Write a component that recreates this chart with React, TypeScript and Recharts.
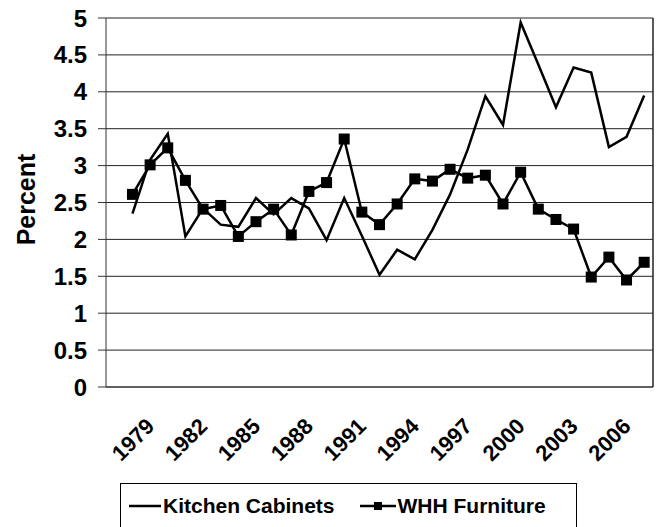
import React from 'react';
import {
    LineChart,
    Line,
    XAxis,
    YAxis,
    CartesianGrid,
    ReferenceLine,
    Legend
} from 'recharts';

const years = [
    1978, 1979, 1980, 1981, 1982, 1983, 1984, 1985, 1986, 1987,
    1988, 1989, 1990, 1991, 1992, 1993, 1994, 1995, 1996, 1997,
    1998, 1999, 2000, 2001, 2002, 2003, 2004, 2005, 2006, 2007
];

const kitchenCabinets = [
    2.35, 3.08, 3.43, 2.04, 2.42, 2.2, 2.17, 2.56, 2.34, 2.56,
    2.42, 1.99, 2.56, 2.05, 1.52, 1.86, 1.73, 2.13, 2.61, 3.22,
    3.94, 3.55, 4.94, 4.37, 3.79, 4.33, 4.26, 3.25, 3.39, 3.95
];

const whhFurniture = [
    2.61, 3.01, 3.24, 2.8, 2.41, 2.46, 2.04, 2.24, 2.41, 2.06,
    2.65, 2.77, 3.36, 2.37, 2.2, 2.48, 2.82, 2.79, 2.95, 2.83,
    2.87, 2.48, 2.91, 2.41, 2.27, 2.14, 1.49, 1.76, 1.45, 1.69
];

const yearLabels = [1979, 1982, 1985, 1988, 1991, 1994, 1997, 2000, 2003, 2006];
const percentTicks = [0, 0.5, 1, 1.5, 2, 2.5, 3, 3.5, 4, 4.5, 5];

// the axis starts one empty slot before the first year (Excel-style category axis)
const firstSlot = 1977;
const lastSlot = 2007;
const slotEdges = [firstSlot - 0.5, ...[firstSlot, ...years].map((y) => y + 0.5)];

const data = years.map((year, i) => ({
    year,
    kc: kitchenCabinets[i],
    whh: whhFurniture[i]
}));

const FONT = '"Liberation Sans", Arial, sans-serif';

const SquareDot = (props: any) => {
    const { cx, cy } = props;
    if (cx == null || cy == null) return null;
    return <rect x={cx - 5.5} y={cy - 5.5} width={11} height={11} fill="#000" />;
};

const YearTick = (props: any) => {
    const { x, y, payload } = props;
    return (
        <text
            x={x}
            y={y}
            dy="0.36em"
            transform={`rotate(-45, ${x}, ${y})`}
            textAnchor="end"
            fontFamily={FONT}
            fontWeight="bold"
            fontSize={22}
            fill="#000"
        >
            {payload.value}
        </text>
    );
};

const PercentLabel = (props: any) => {
    const { viewBox } = props;
    const cx = viewBox.x + 26;
    const cy = viewBox.y + viewBox.height / 2 - 3;
    return (
        <text
            x={cx}
            y={cy}
            dy="0.36em"
            transform={`rotate(-90, ${cx}, ${cy})`}
            textAnchor="middle"
            fontFamily={FONT}
            fontWeight="bold"
            fontSize={25}
            fill="#000"
        >
            Percent
        </text>
    );
};

const LegendBox = () => (
    <div
        style={{
            border: '1px solid #000',
            height: 60,
            boxSizing: 'border-box',
            padding: '9px 0 0 8px',
            display: 'flex',
            alignItems: 'flex-start',
            fontFamily: FONT,
            fontWeight: 'bold',
            fontSize: 21,
            color: '#000'
        }}
    >
        <svg width={32} height={26} style={{ marginRight: 2 }}>
            <line x1={0} y1={13} x2={32} y2={13} stroke="#000" strokeWidth={2.5} />
        </svg>
        <span style={{ lineHeight: '26px' }}>Kitchen Cabinets</span>
        <svg width={36} height={26} style={{ marginLeft: 25, marginRight: 2 }}>
            <line x1={0} y1={13} x2={36} y2={13} stroke="#000" strokeWidth={2.5} />
            <rect x={14} y={9} width={8} height={8} fill="#000" />
        </svg>
        <span style={{ lineHeight: '26px' }}>WHH Furniture</span>
    </div>
);

export default function App() {
    return (
        <div style={{ position: 'absolute', left: 0, top: 0 }}>
            <LineChart width={662} height={527} data={data} margin={{ top: 18, right: 9, left: 0, bottom: 70 }}>
                <CartesianGrid vertical={false} stroke="#222" strokeWidth={1} yAxisId="p" />
                <XAxis
                    xAxisId="edges"
                    type="number"
                    dataKey="year"
                    domain={[firstSlot - 0.5, lastSlot + 0.5]}
                    ticks={slotEdges}
                    interval={0}
                    tick={false}
                    tickSize={6}
                    height={10}
                    stroke="#333"
                />
                <XAxis
                    xAxisId="labels"
                    type="number"
                    dataKey="year"
                    domain={[firstSlot - 0.5, lastSlot + 0.5]}
                    ticks={yearLabels}
                    interval={0}
                    axisLine={false}
                    tickLine={false}
                    tickSize={6}
                    tickMargin={19}
                    height={60}
                    tick={<YearTick />}
                />
                <YAxis
                    yAxisId="p"
                    domain={[0, 5]}
                    ticks={percentTicks}
                    interval={0}
                    width={106}
                    tickSize={8}
                    tickMargin={11}
                    stroke="#333"
                    tick={{ fill: '#000', fontSize: 24, fontWeight: 'bold', fontFamily: FONT }}
                    label={<PercentLabel />}
                />
                <ReferenceLine xAxisId="edges" yAxisId="p" x={lastSlot + 0.5} stroke="#222" strokeWidth={1.5} />
                <Line
                    xAxisId="edges"
                    yAxisId="p"
                    type="linear"
                    dataKey="kc"
                    name="Kitchen Cabinets"
                    stroke="#000"
                    strokeWidth={2.5}
                    dot={false}
                    isAnimationActive={false}
                />
                <Line
                    xAxisId="edges"
                    yAxisId="p"
                    type="linear"
                    dataKey="whh"
                    name="WHH Furniture"
                    stroke="#000"
                    strokeWidth={2.5}
                    dot={<SquareDot />}
                    isAnimationActive={false}
                />
                <Legend
                    layout="horizontal"
                    align="center"
                    verticalAlign="middle"
                    content={<LegendBox />}
                    wrapperStyle={{ position: 'absolute', left: 120, top: 483, width: 457, height: 60 }}
                />
            </LineChart>
        </div>
    );
}
